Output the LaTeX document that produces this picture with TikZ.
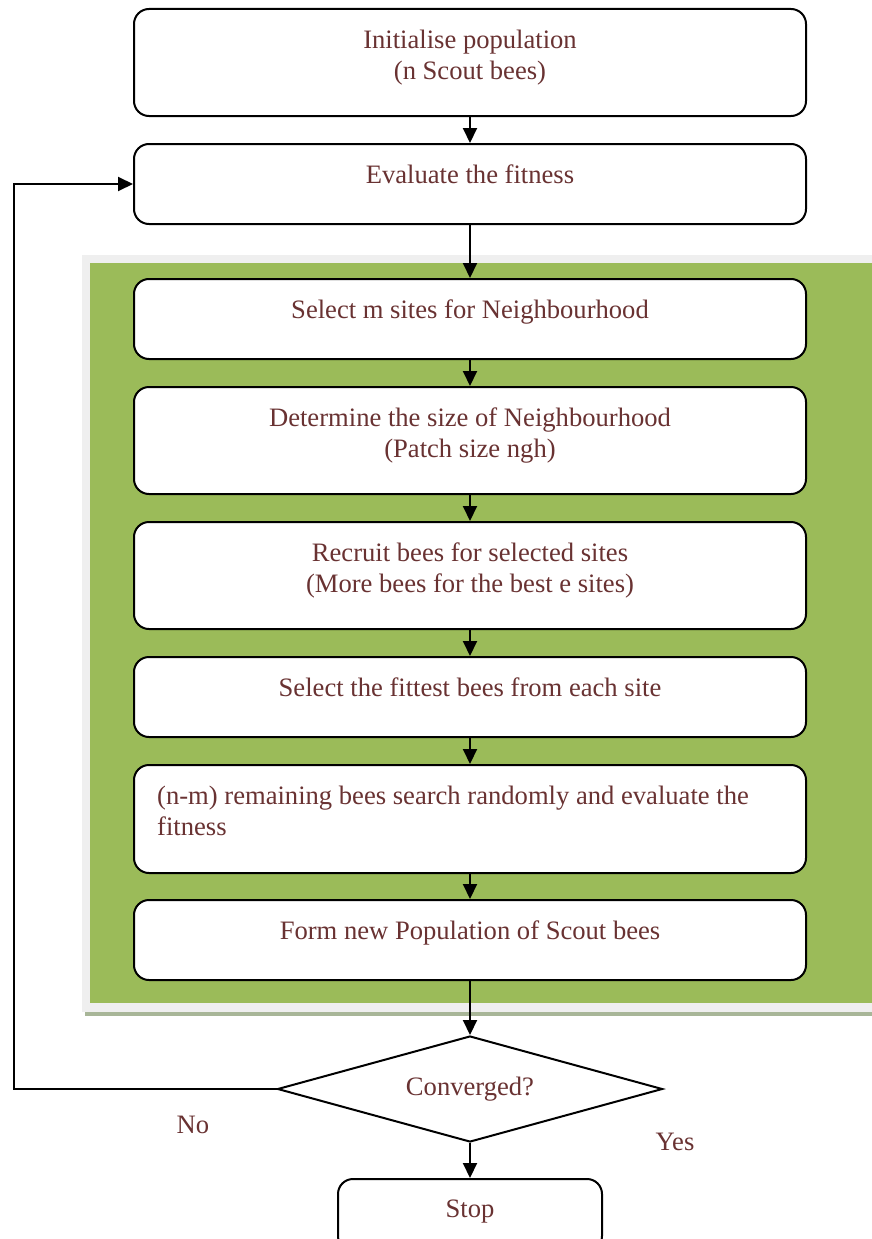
\documentclass[tikz,border=0pt]{standalone}
\usepackage{fontspec}
\setmainfont{Liberation Serif}
\usetikzlibrary{shapes.geometric,arrows.meta}
\definecolor{txtc}{RGB}{105,50,50}
\definecolor{panelgreen}{HTML}{9BBB59}
\definecolor{panelgray}{HTML}{EFEFEF}
\definecolor{panelline}{HTML}{A8B698}
\begin{document}
\begin{tikzpicture}[x=1pt,y=-1pt,
  box/.style={draw=black, line width=2pt, rounded corners=15pt, fill=white, minimum width=672pt, inner sep=0pt},
  txt/.style={text=txtc, font=\fontsize{26.6}{31.5}\selectfont, inner sep=0pt, anchor=north, align=center},
  lbl/.style={text=txtc, font=\fontsize{26.6}{31.5}\selectfont, inner sep=0pt},
  arr/.style={draw=black, line width=2pt, -{Triangle[length=15pt,width=14pt]}},
]
\clip (0,0) rectangle (872,1239);
\fill[white] (0,0) rectangle (872,1239);
% green panel
\fill[panelgray] (82,255) rectangle (880,1012);
\fill[panelgreen] (90,263) rectangle (880,1003);
\fill[panelline] (85,1012) rectangle (880,1016);
% boxes
\node[box, minimum height=107pt] (b1) at (470,62.5) {};
\node[box, minimum height=80pt] (b2) at (470,184) {};
\node[box, minimum height=80pt] (b3) at (470,319) {};
\node[box, minimum height=107pt] (b4) at (470,440.5) {};
\node[box, minimum height=107pt] (b5) at (470,575.5) {};
\node[box, minimum height=80pt] (b6) at (470,697) {};
\node[box, minimum height=108pt] (b7) at (470,819) {};
\node[box, minimum height=80pt] (b8) at (470,940) {};
\node[box, minimum width=264pt, minimum height=72pt] (stop) at (470,1215) {};
\node[draw=black, line width=2pt, shape=diamond, shape aspect=3.6, minimum width=385pt, minimum height=106pt, inner sep=0pt, fill=white, text=txtc, font=\fontsize{26.6}{31.5}\selectfont] (dia) at (470,1089) {Converged?};
% texts
\node[txt] (t1) at ([yshift=-18pt]b1.north) {\rule{0pt}{22pt}Initialise population\\(n Scout bees)};
\node[txt] (t2) at ([yshift=-18pt]b2.north) {\rule{0pt}{22pt}Evaluate the fitness};
\node[txt] (t3) at ([yshift=-18pt]b3.north) {\rule{0pt}{22pt}Select m sites for Neighbourhood};
\node[txt] (t4) at ([yshift=-18pt]b4.north) {\rule{0pt}{22pt}Determine the size of Neighbourhood\\(Patch size ngh)};
\node[txt] (t5) at ([yshift=-18pt]b5.north) {\rule{0pt}{22pt}Recruit bees for selected sites\\(More bees for the best e sites)};
\node[txt] (t6) at ([yshift=-18pt]b6.north) {\rule{0pt}{22pt}Select the fittest bees from each site};
\node[txt, anchor=north west, align=left] (t7) at ([xshift=24pt,yshift=-18pt]b7.north west) {\rule{0pt}{22pt}(n-m) remaining bees search randomly and evaluate the\\fitness};
\node[txt] (t8) at ([yshift=-18pt]b8.north) {\rule{0pt}{22pt}Form new Population of Scout bees};
\node[txt] (ts) at ([yshift=-17pt]stop.north) {\rule{0pt}{22pt}Stop};
\node[lbl, anchor=base] (no) at (193,1133) {No};
\node[lbl, anchor=base] (yes) at (675,1150) {Yes};
% connectors
\draw[arr] (b1.south) -- (b2.north);
\draw[arr] (b2.south) -- (b3.north);
\draw[arr] (b3.south) -- (b4.north);
\draw[arr] (b4.south) -- (b5.north);
\draw[arr] (b5.south) -- (b6.north);
\draw[arr] (b6.south) -- (b7.north);
\draw[arr] (b7.south) -- (b8.north);
\draw[arr] (b8.south) -- (dia.north);
\draw[arr] (dia.south) -- (stop.north);
\coordinate (lp) at (14,1089);
\draw[arr] (dia.west) -- (lp) |- (b2.west);
\end{tikzpicture}
\end{document}
